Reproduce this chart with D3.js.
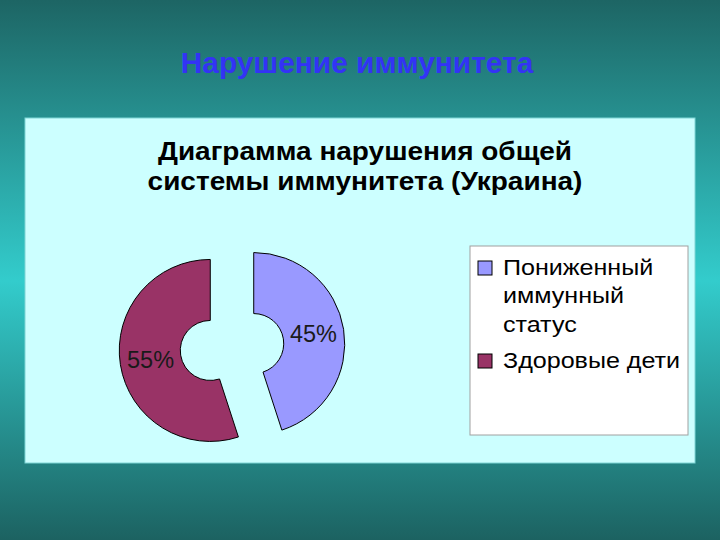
<!DOCTYPE html>
<html>
<head>
<meta charset="utf-8">
<title>Нарушение иммунитета</title>
<script src="https://d3js.org/d3.v7.min.js"></script>
<style>
  body { margin: 0; }
  svg { display: block; }
</style>
</head>
<body>
<script>
// data
var categories = ["Пониженный иммунный статус", "Здоровые дети"];
var values = [45, 55];
var labels = ["45%", "55%"];
var legendLines = [["Пониженный", "иммунный", "статус"], ["Здоровые дети"]];
var colors = ["#9999ff", "#993366"];

var width = 720, height = 540;
var font = "'Liberation Sans', Arial, sans-serif";

var svg = d3.select("body").append("svg")
    .attr("width", width)
    .attr("height", height);

// slide background
var defs = svg.append("defs");
var grad = defs.append("linearGradient")
    .attr("id", "bg").attr("x1", 0).attr("y1", 0).attr("x2", 0).attr("y2", 1);
grad.append("stop").attr("offset", "0%").attr("stop-color", "#1d6564");
grad.append("stop").attr("offset", "52%").attr("stop-color", "#33cccc");
grad.append("stop").attr("offset", "100%").attr("stop-color", "#1c6261");

svg.append("rect").attr("width", width).attr("height", height).attr("fill", "url(#bg)");

svg.append("text")
    .attr("transform", "translate(357,73) scale(1.03,1)")
    .attr("text-anchor", "middle")
    .style("font-family", font)
    .style("font-weight", "bold")
    .style("font-size", "29px")
    .style("fill", "#3333f5")
    .text("Нарушение иммунитета");

// chart panel
svg.append("rect")
    .attr("x", 25).attr("y", 118)
    .attr("width", 670).attr("height", 345)
    .attr("fill", "#ccffff")
    .attr("stroke", "#7fd6d6").attr("stroke-width", 1);

var title = svg.append("text")
    .attr("transform", "translate(365,0) scale(1.12,1)")
    .attr("text-anchor", "middle")
    .style("font-family", font)
    .style("font-weight", "bold")
    .style("font-size", "25px")
    .style("fill", "#000");
title.append("tspan").attr("x", 0).attr("y", 160).text("Диаграмма нарушения общей");
title.append("tspan").attr("x", 0).attr("y", 190).text("системы иммунитета (Украина)");

// exploded doughnut
var cx = 232, cy = 347, rOuter = 91, rInner = 30, explode = 22;

var pie = d3.pie().sort(null).value(function(d) { return d; });
var arc = d3.arc().innerRadius(rInner).outerRadius(rOuter);

var slices = svg.append("g")
    .attr("transform", "translate(" + cx + "," + cy + ")")
    .selectAll("g")
    .data(pie(values))
    .enter().append("g")
    .attr("transform", function(d) {
      var a = (d.startAngle + d.endAngle) / 2;
      return "translate(" + (explode * Math.sin(a)) + "," + (-explode * Math.cos(a)) + ")";
    });

slices.append("path")
    .attr("d", arc)
    .attr("fill", function(d, i) { return colors[i]; })
    .attr("stroke", "#000")
    .attr("stroke-width", 1);

slices.append("text")
    .attr("transform", function(d) { return "translate(" + arc.centroid(d) + ")"; })
    .attr("text-anchor", "middle")
    .attr("dy", "0.35em")
    .style("font-family", font)
    .style("font-size", "23.5px")
    .style("fill", "#1a1a1a")
    .text(function(d, i) { return labels[i]; });

// legend
var legend = svg.append("g");
legend.append("rect")
    .attr("x", 470).attr("y", 246)
    .attr("width", 218).attr("height", 189)
    .attr("fill", "#fff")
    .attr("stroke", "#a0a0a0").attr("stroke-width", 1);

var lineH = 28.5;
var itemY = [275, 368];

categories.forEach(function(c, i) {
  legend.append("rect")
      .attr("x", 478).attr("y", itemY[i] - 14)
      .attr("width", 14).attr("height", 14)
      .attr("fill", colors[i])
      .attr("stroke", "#000").attr("stroke-width", 1);
  var t = legend.append("text")
      .attr("transform", "translate(503," + itemY[i] + ") scale(1.14,1)")
      .style("font-family", font)
      .style("font-size", "22px")
      .style("fill", "#000");
  legendLines[i].forEach(function(line, j) {
    t.append("tspan").attr("x", 0).attr("y", j * lineH).text(line);
  });
});
</script>
</body>
</html>
